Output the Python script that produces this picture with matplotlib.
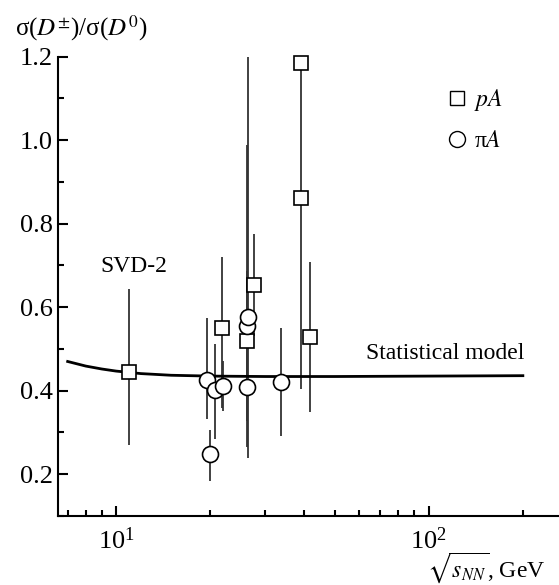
import numpy as np
import matplotlib
matplotlib.use("Agg")
import matplotlib.pyplot as plt
from matplotlib.lines import Line2D
from matplotlib.ticker import LogLocator, MultipleLocator, FixedLocator

plt.rcParams['font.family'] = ['Liberation Serif', 'DejaVu Serif']
plt.rcParams['mathtext.fontset'] = 'stix'

# pA data (squares): sqrt(s_NN), ratio, err low, err high
pa_x = [11.0, 21.8, 26.2, 27.7, 39.0, 39.0, 41.7]
pa_y = [0.444, 0.549, 0.518, 0.652, 1.184, 0.862, 0.528]
pa_lo = [0.174, 0.190, 0.254, 0.120, 0.0, 0.458, 0.178]
pa_hi = [0.200, 0.171, 0.470, 0.124, 0.0, 0.322, 0.180]

# piA data (circles)
pi_x = [19.5, 19.9, 20.75, 21.9, 26.2, 26.2, 26.5, 33.8]
pi_y = [0.425, 0.248, 0.402, 0.412, 0.408, 0.556, 0.577, 0.422]
pi_lo = [0.093, 0.064, 0.118, 0.060, 0.080, 0.130, 0.337, 0.130]
pi_hi = [0.149, 0.058, 0.110, 0.060, 0.080, 0.130, 0.623, 0.128]

# statistical model curve
model_x = [7, 8, 9, 10, 12, 15, 20, 30, 50, 100, 200]
model_y = [0.470, 0.459, 0.452, 0.447, 0.441, 0.437, 0.435, 0.434, 0.434, 0.435, 0.436]

fig = plt.figure(figsize=(5.59, 5.85), dpi=100)
ax = fig.add_axes([0.1038, 0.118, 0.8962, 0.7851])

ax.plot(model_x, model_y, color='black', lw=2.0, zorder=2)

ebc = '#333333'
ax.errorbar(pa_x, pa_y, yerr=[pa_lo, pa_hi], fmt='none', ecolor=ebc,
            elinewidth=1.3, capsize=0, zorder=1)
ax.errorbar(pi_x, pi_y, yerr=[pi_lo, pi_hi], fmt='none', ecolor=ebc,
            elinewidth=1.3, capsize=0, zorder=1)
ax.plot(pa_x, pa_y, ls='none', marker='s', ms=9.5, mfc='white', mec='black',
        mew=1.2, zorder=3, clip_on=False)
ax.plot(pi_x, pi_y, ls='none', marker='o', ms=11.5, mfc='white', mec='black',
        mew=1.2, zorder=3, clip_on=False)

ax.set_xscale('log')
ax.set_xlim(6.52, 261)
ax.set_ylim(0.1, 1.2)

ax.xaxis.set_major_locator(FixedLocator([10, 100]))
ax.xaxis.set_minor_locator(LogLocator(base=10, subs=np.arange(2, 10)))
ax.yaxis.set_major_locator(MultipleLocator(0.2))
ax.yaxis.set_minor_locator(MultipleLocator(0.1))
ax.yaxis.set_major_formatter(plt.FuncFormatter(lambda v, p: f'{v:.1f}'))

for s in ['top', 'right']:
    ax.spines[s].set_visible(False)
for s in ['left', 'bottom']:
    ax.spines[s].set_linewidth(1.5)

ax.tick_params(which='both', direction='in', width=1.5, labelsize=19)
ax.tick_params(which='major', length=7)
ax.tick_params(which='minor', length=4.5)
ax.tick_params(axis='x', pad=8)

ax.text(8.9, 0.697, 'SVD-2', fontsize=17, va='center')
ax.text(63, 0.488, 'Statistical model', fontsize=17, va='center')

handles = [
    Line2D([], [], ls='none', marker='s', ms=9.5, mfc='white', mec='black', mew=1.0),
    Line2D([], [], ls='none', marker='o', ms=11.5, mfc='white', mec='black', mew=1.0),
]
ax.legend(handles, ['$pA$', 'π$A$'], loc='upper left', bbox_to_anchor=(0.74, 0.98),
          frameon=False, fontsize=17, handlelength=0.6, handletextpad=0.4,
          labelspacing=0.75)

fig.text(0.027, 0.952, 'σ($D^{\\pm}$)/σ($D^{0}$)', fontsize=18, va='center')
fig.text(0.975, 0.030, '$\\sqrt{s_{NN}}$, GeV', fontsize=17, ha='right', va='center')

fig.savefig('out.png', dpi=100)
